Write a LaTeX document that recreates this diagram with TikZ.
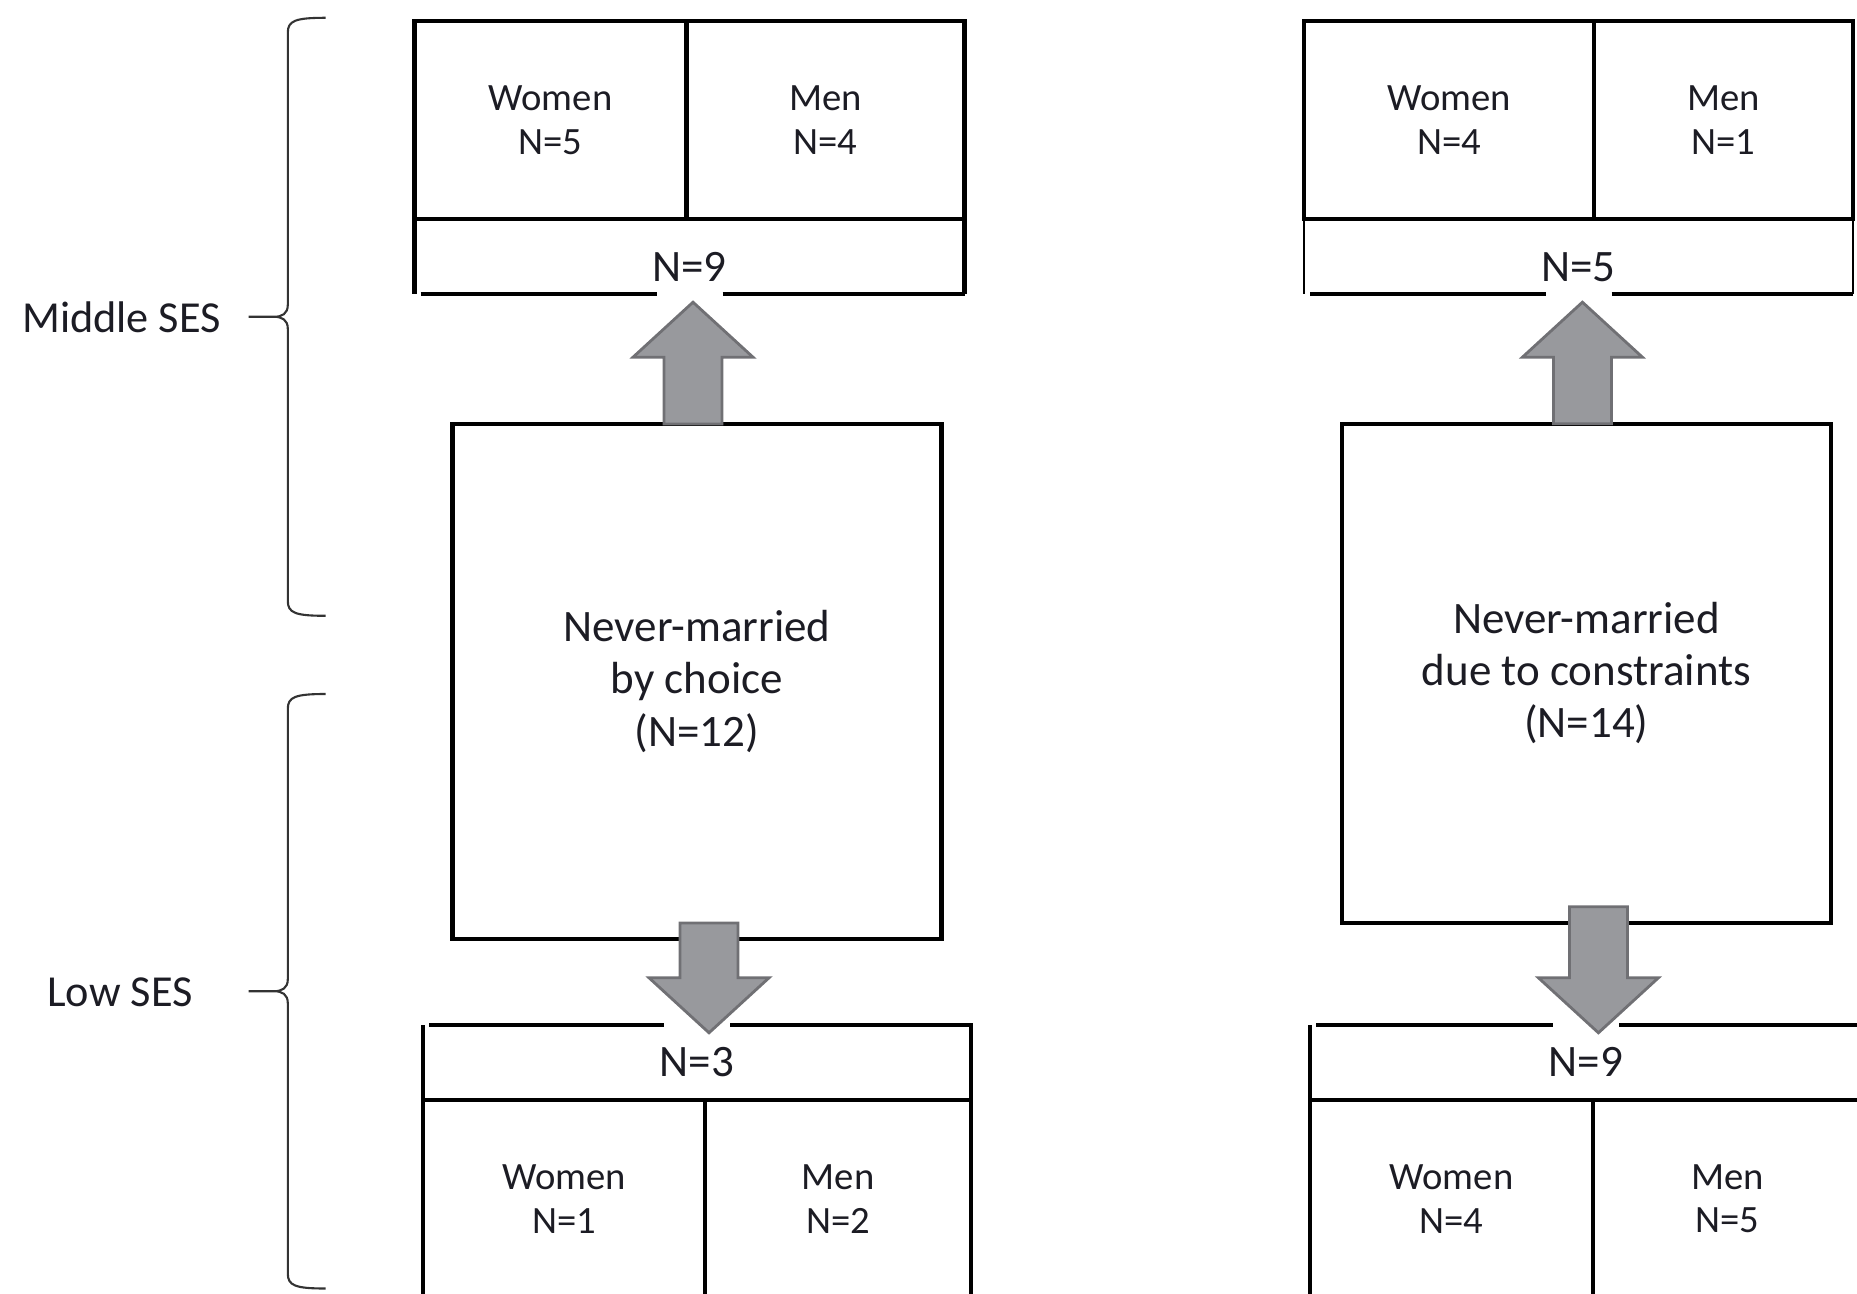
\documentclass[tikz,border=0pt]{standalone}
\usepackage{fontspec}
\setmainfont{Carlito}
\usetikzlibrary{positioning, calc}
\definecolor{ArrFill}{RGB}{152,153,157}
\definecolor{ArrLine}{RGB}{112,112,116}
\definecolor{TxtDark}{RGB}{28,28,36}

\begin{document}
\begin{tikzpicture}[
    cell/.style={rectangle, draw, line width=1.15pt, outer sep=0pt, inner sep=0pt,
                 minimum height=1.98cm, align=center, text=TxtDark,
                 font=\fontsize{11}{12.4}\selectfont},
    totrow/.style={rectangle, outer sep=0pt, inner sep=0pt, minimum height=0.75cm,
                 text=TxtDark, font=\fontsize{12.8}{14}\selectfont},
    group/.style={rectangle, draw, line width=1.15pt, outer sep=0pt, minimum width=4.89cm,
                 align=center, text=TxtDark, font=\fontsize{12.8}{14.8}\selectfont},
    seslbl/.style={text=TxtDark, font=\fontsize{12.6}{14}\selectfont},
    edge/.style={line width=1.15pt},
    thinedge/.style={line width=0.4pt},
    brc/.style={draw=black!80, line width=0.6pt},
    fat/.style={fill=ArrFill, draw=ArrLine, line width=0.8pt, line join=miter}
  ]
  \useasboundingbox (0,0) rectangle (18.57,-12.94);

  % SES labels and braces
  \node[seslbl] (midSES) at (1.215,-3.17) {Middle SES};
  \node[seslbl] (lowSES) at (1.20,-9.92) {Low SES};
  \foreach \ya/\ym/\yb in {-0.178/-3.168/-6.158, -6.940/-9.912/-12.885}
    \draw[brc] (3.257,\ya) .. controls (2.95,\ya) and (2.878,\ya-0.03) .. (2.878,\ya-0.15)
      -- (2.878,\ym+0.12) .. controls (2.878,\ym+0.03) and (2.82,\ym) .. (2.74,\ym)
      -- (2.487,\ym)
      (2.74,\ym) .. controls (2.82,\ym) and (2.878,\ym-0.03) .. (2.878,\ym-0.12)
      -- (2.878,\yb+0.15) .. controls (2.878,\yb+0.03) and (2.95,\yb) .. (3.257,\yb);

  % never-married groups
  \node[group, minimum height=5.15cm] (choice) at (6.97,-6.815)
        {Never-married\\by choice\\(N=12)};
  \node[group, minimum height=4.99cm] (constr) at (15.864,-6.733)
        {Never-married\\due to constraints\\(N=14)};

  % Middle SES split
  \node[cell, minimum width=2.72cm] (wTL) at (5.505,-1.202) {Women\\N=5};
  \node[cell, minimum width=2.78cm, right=0pt of wTL] (mTL) {Men\\N=4};
  \node[totrow, minimum width=5.5cm, text height=0.49cm, anchor=north]
        (totTL) at ($(wTL.south west)!0.5!(mTL.south east)$) {N=9};
  \node[cell, minimum width=2.90cm] (wTR) at (14.49,-1.202) {Women\\N=4};
  \node[cell, minimum width=2.59cm, right=0pt of wTR] (mTR) {Men\\N=1};
  \node[totrow, minimum width=5.49cm, text height=0.49cm, anchor=north]
        (totTR) at ($(wTR.south west)!0.5!(mTR.south east)$) {N=5};

  % Low SES split
  \node[totrow, minimum width=5.48cm] (totBL) at (6.97,-10.623) {N=3};
  \node[cell, minimum width=2.82cm, anchor=north west] (wBL) at (totBL.south west) {Women\\N=1};
  \node[cell, minimum width=2.66cm, right=0pt of wBL] (mBL) {Men\\N=2};
  \node[totrow, minimum width=5.52cm] (totBR) at (15.86,-10.623) {N=9};
  \node[cell, minimum width=2.83cm, anchor=north west] (wBR) at (totBR.south west) {Women\\N=4};
  \node[cell, minimum width=2.69cm, right=0pt of wBR] (mBR) {Men\\N=5};

  % total rows, open where the arrows pass
  \foreach \n/\e in {totTL/edge, totTR/thinedge} {
    \draw[\e] (\n.north west) -- (\n.south west);
    \draw[\e] (\n.north east) -- (\n.south east);
    \draw[edge] ([xshift=0.06cm]\n.south west) -- ([xshift=-0.33cm]\n.south);
    \draw[edge] ([xshift=0.33cm]\n.south) -- (\n.south east);
  }
  \foreach \n in {totBL, totBR} {
    \draw[edge] (\n.south west) -- (\n.north west);
    \draw[edge] ([xshift=0.06cm]\n.north west) -- ([xshift=-0.33cm]\n.north);
    \draw[edge] ([xshift=0.33cm]\n.north) -- (\n.north east) -- (\n.south east);
  }

  % block arrows
  \foreach \src/\dst/\dx/\dir/\ofs in {choice.north/totTL.south/-0.04/1/0,
      constr.north/totTR.south/-0.04/1/0, choice.south/totBL.north/0.12/-1/0.16,
      constr.south/totBR.north/0.12/-1/0.16}
    \draw[fat] let \p1=($(\src)+(\dx,\ofs)$), \p2=($(\src |- \dst)+(\dx,-0.08)$) in
      (\x1-0.29cm,\y1) -- (\x1-0.29cm,{\y2-(\dir)*0.55cm})
      -- (\x1-0.6cm,{\y2-(\dir)*0.55cm}) -- (\x1,\y2)
      -- (\x1+0.6cm,{\y2-(\dir)*0.55cm}) -- (\x1+0.29cm,{\y2-(\dir)*0.55cm})
      -- (\x1+0.29cm,\y1) -- cycle;
\end{tikzpicture}
\end{document}
